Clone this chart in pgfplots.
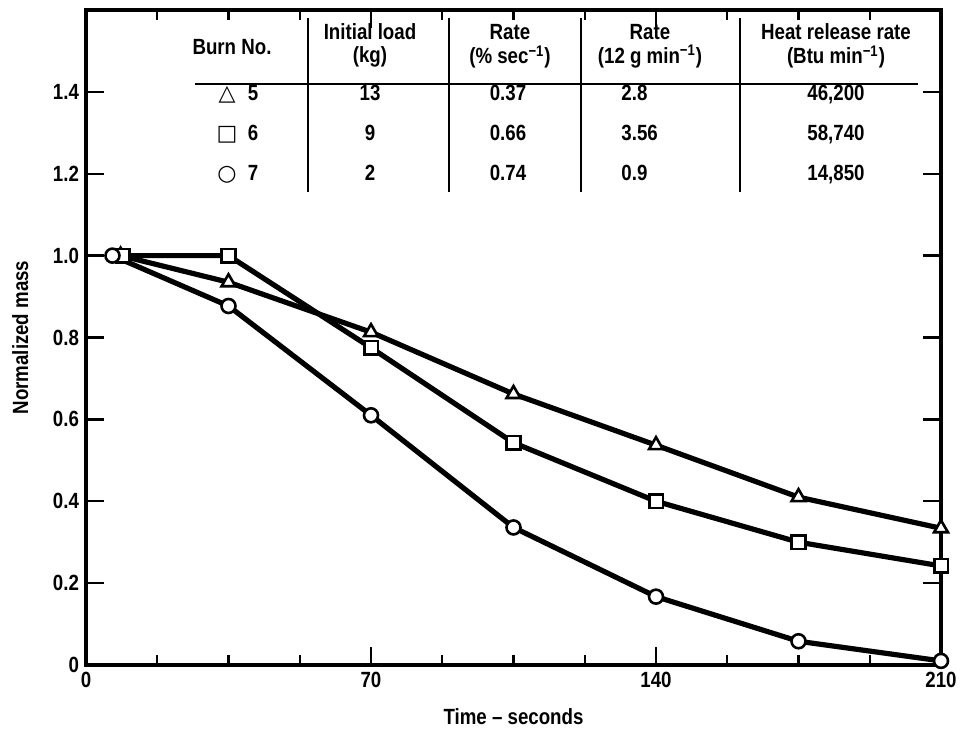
\documentclass[border=0pt]{standalone}
\usepackage{pgfplots}
\pgfplotsset{compat=1.18}
\usepackage{fontspec}
\setmainfont{Liberation Sans}[FakeStretch=0.85]
\newfontfamily\sym{DejaVu Sans}
\begin{document}
\begin{tikzpicture}
\useasboundingbox (-43pt,-32pt) rectangle (438.5pt,332.5pt);
\begin{axis}[
  scale only axis, width=427.5pt, height=327.5pt,
  xmin=0, xmax=210, ymin=0, ymax=1.6,
  axis line style={line width=2pt},
  xtick={0,70,140,210}, xticklabels={0,70,140,210},
  minor xtick={17.5,35,52.5,87.5,105,122.5,157.5,175,192.5},
  ytick={0,0.2,0.4,0.6,0.8,1.0,1.2,1.4},
  yticklabels={0,0.2,0.4,0.6,0.8,1.0,1.2,1.4},
  tick style={line width=1.2pt, black},
  major tick length=9pt, minor tick length=5pt,
  tick align=inside,
  font=\fontsize{11}{13}\selectfont\bfseries,
  ticklabel style={font=\fontsize{11}{13}\selectfont\bfseries},
  xlabel={Time -- seconds}, ylabel={Normalized mass},
  every axis x label/.style={at={(axis description cs:0.5,-0.0794)}, anchor=center},
  every axis y label/.style={at={(axis description cs:-0.077,0.5)}, rotate=90, anchor=center},
  clip=false,
]
\addplot[black, line width=2.6pt, mark=triangle*, mark size=4pt, mark options={fill=white, draw=black, line width=1.3pt, solid}]
  coordinates {(8.5,1.0) (35,0.935) (70,0.813) (105,0.662) (140,0.537) (175,0.41) (210,0.334)};
\addplot[black, line width=2.6pt, mark=square*, mark size=3.4pt, mark options={fill=white, draw=black, line width=1.3pt, solid}]
  coordinates {(9,1.0) (35,1.0) (70,0.775) (105,0.543) (140,0.40) (175,0.30) (210,0.242)};
\addplot[black, line width=2.6pt, mark=*, mark size=3.5pt, mark options={fill=white, draw=black, line width=1.3pt, solid}]
  coordinates {(6.5,1.0) (35,0.877) (70,0.61) (105,0.336) (140,0.167) (175,0.058) (210,0.01)};
\end{axis}
\begin{scope}[x=0.5pt, y=-0.5pt, shift={(-43pt,332.5pt)}, font=\fontsize{11}{13}\selectfont\bfseries,
  every node/.style={inner sep=0.5pt}]
  \draw[line width=1.3pt] (195,84) -- (918,84);
  \foreach \sx in {308,449,581,740} {\draw[line width=1.3pt] (\sx,18) -- (\sx,192);}
  \node at (232,47) {Burn No.};
  \node at (370,32) {Initial load}; \node at (370,57) {(kg)};
  \node at (510,32) {Rate}; \node at (510,57) {(\% sec\textsuperscript{−1})};
  \node at (650,32) {Rate}; \node at (650,57) {(12 g min\textsuperscript{−1})};
  \node at (836,32) {Heat release rate}; \node at (836,57) {(Btu min\textsuperscript{−1})};
  \begin{scope}[every node/.style={inner sep=0.5pt, text height=1.6ex, text depth=0pt}]
  \node at (227,92) {\sym △}; \node at (253,92) {5};
  \node at (227,132) {\sym □}; \node at (253,132) {6};
  \node at (227,172) {\sym ○}; \node at (253,172) {7};
  \node at (370,92) {13}; \node at (370,132) {9}; \node at (370,172) {2};
  \node at (508,92) {0.37}; \node at (508,132) {0.66}; \node at (508,172) {0.74};
  \node[anchor=west] at (620,92) {2.8}; \node[anchor=west] at (620,132) {3.56}; \node[anchor=west] at (620,172) {0.9};
  \node at (836,92) {46,200}; \node at (836,132) {58,740}; \node at (836,172) {14,850};
  \end{scope}
\end{scope}
\end{tikzpicture}
\end{document}
